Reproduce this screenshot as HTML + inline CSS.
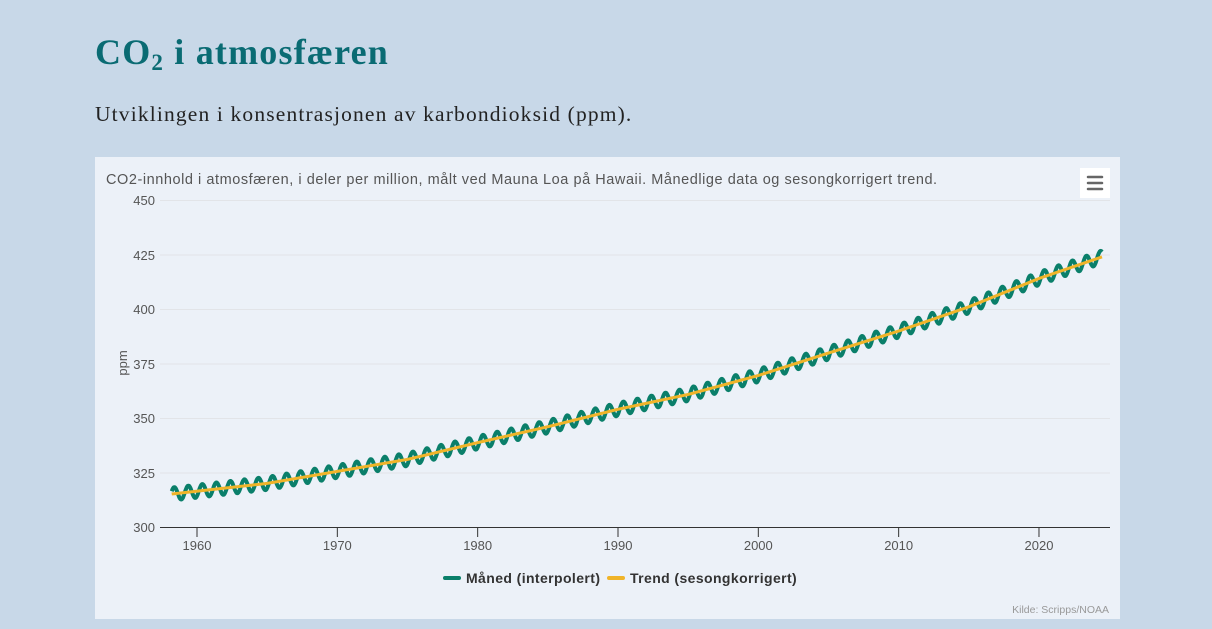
<!DOCTYPE html>
<html><head><meta charset="utf-8"><style>
body{margin:0;width:1212px;height:629px;background:#c8d8e8;overflow:hidden;font-family:"Liberation Sans",sans-serif;}
h1{position:absolute;left:95px;top:31px;margin:0;font-family:"Liberation Serif",serif;font-weight:bold;font-size:36px;letter-spacing:1.2px;color:#0a6b73;}
h1 sub{font-size:23px;vertical-align:-6px;}
.sub{position:absolute;left:95px;top:102px;font-family:"Liberation Serif",serif;font-size:21.5px;letter-spacing:1.15px;color:#222;}
.panel{position:absolute;left:95px;top:157px;width:1025px;height:462px;background:#ecf1f8;}
svg{position:absolute;left:0;top:0;}
</style></head><body>
<h1>CO<sub>2</sub> i atmosfæren</h1>
<div class="sub">Utviklingen i konsentrasjonen av karbondioksid (ppm).</div>
<div class="panel"></div>
<svg width="1212" height="629" id="s" font-family="Liberation Sans, sans-serif">
<text x="106" y="184" font-size="14.5" letter-spacing="0.55" fill="#555">CO2-innhold i atmosfæren, i deler per million, målt ved Mauna Loa på Hawaii. Månedlige data og sesongkorrigert trend.</text>
<rect x="1080" y="168" width="30" height="30" fill="#fff"/>
<g stroke="#666" stroke-width="2.5" stroke-linecap="round"><line x1="1088" y1="177" x2="1102" y2="177"/><line x1="1088" y1="183" x2="1102" y2="183"/><line x1="1088" y1="189" x2="1102" y2="189"/></g>
<g stroke="#e2e4e8" stroke-width="1">
<line x1="160" y1="200.5" x2="1110" y2="200.5"/><line x1="160" y1="255" x2="1110" y2="255"/><line x1="160" y1="309.5" x2="1110" y2="309.5"/><line x1="160" y1="364" x2="1110" y2="364"/><line x1="160" y1="418.5" x2="1110" y2="418.5"/><line x1="160" y1="473" x2="1110" y2="473"/></g>
<line x1="160" y1="527.5" x2="1110" y2="527.5" stroke="#333" stroke-width="1"/>
<g font-size="13" fill="#555" text-anchor="end">
<text x="155" y="205">450</text><text x="155" y="260">425</text><text x="155" y="314">400</text><text x="155" y="369">375</text><text x="155" y="423">350</text><text x="155" y="478">325</text><text x="155" y="532">300</text></g>
<text transform="translate(127,363) rotate(-90)" font-size="13" fill="#555" text-anchor="middle">ppm</text>
<g id="xt" font-size="13" fill="#555" text-anchor="middle"></g>
<path id="m" fill="none" stroke="#0a7f6a" stroke-width="4" stroke-linejoin="round"/>
<path id="t" fill="none" stroke="#f0b429" stroke-width="3" stroke-linejoin="round"/>
<line x1="445" y1="578" x2="459" y2="578" stroke="#0a7f6a" stroke-width="4" stroke-linecap="round"/>
<text x="466" y="583" font-size="14" font-weight="bold" letter-spacing="0.4" fill="#333">Måned (interpolert)</text>
<line x1="609" y1="578" x2="623" y2="578" stroke="#f0b429" stroke-width="4" stroke-linecap="round"/>
<text x="630" y="583" font-size="14" font-weight="bold" letter-spacing="0.4" fill="#333">Trend (sesongkorrigert)</text>
<text x="1109" y="613" font-size="10.5" fill="#999" text-anchor="end">Kilde: Scripps/NOAA</text>
</svg>
<script>
var X=function(y){return 197+(y-1960)*14.033;},Y=function(v){return 527-(v-300)*2.18;};
var A=[[1958,315],[1965,320],[1970,325.5],[1975,331],[1980,338.7],[1985,346],[1990,354],[1995,360.8],[2000,369.5],[2005,379.8],[2010,389.9],[2015,401],[2020,414],[2025,425]];
function tr(y){for(var i=0;i<A.length-1;i++){if(y<=A[i+1][0]){var f=(y-A[i][0])/(A[i+1][0]-A[i][0]);return A[i][1]+f*(A[i+1][1]-A[i][1]);}}return 425;}
var m="",t="";for(var y=1958.2;y<=2024.5;y+=1/24){var v=tr(y);var s=3*Math.sin(2*Math.PI*(y-0.13));
m+=(m?"L":"M")+X(y).toFixed(1)+","+Y(v+s).toFixed(1);t+=(t?"L":"M")+X(y).toFixed(1)+","+Y(v).toFixed(1);}
document.getElementById("m").setAttribute("d",m);document.getElementById("t").setAttribute("d",t);
var g=document.getElementById("xt"),h="";for(var yr=1960;yr<=2020;yr+=10){var x=X(yr);h+='<line x1="'+x+'" y1="527" x2="'+x+'" y2="537" stroke="#333"/><text x="'+x+'" y="550">'+yr+'</text>';}
g.innerHTML=h;
</script>
</body></html>
